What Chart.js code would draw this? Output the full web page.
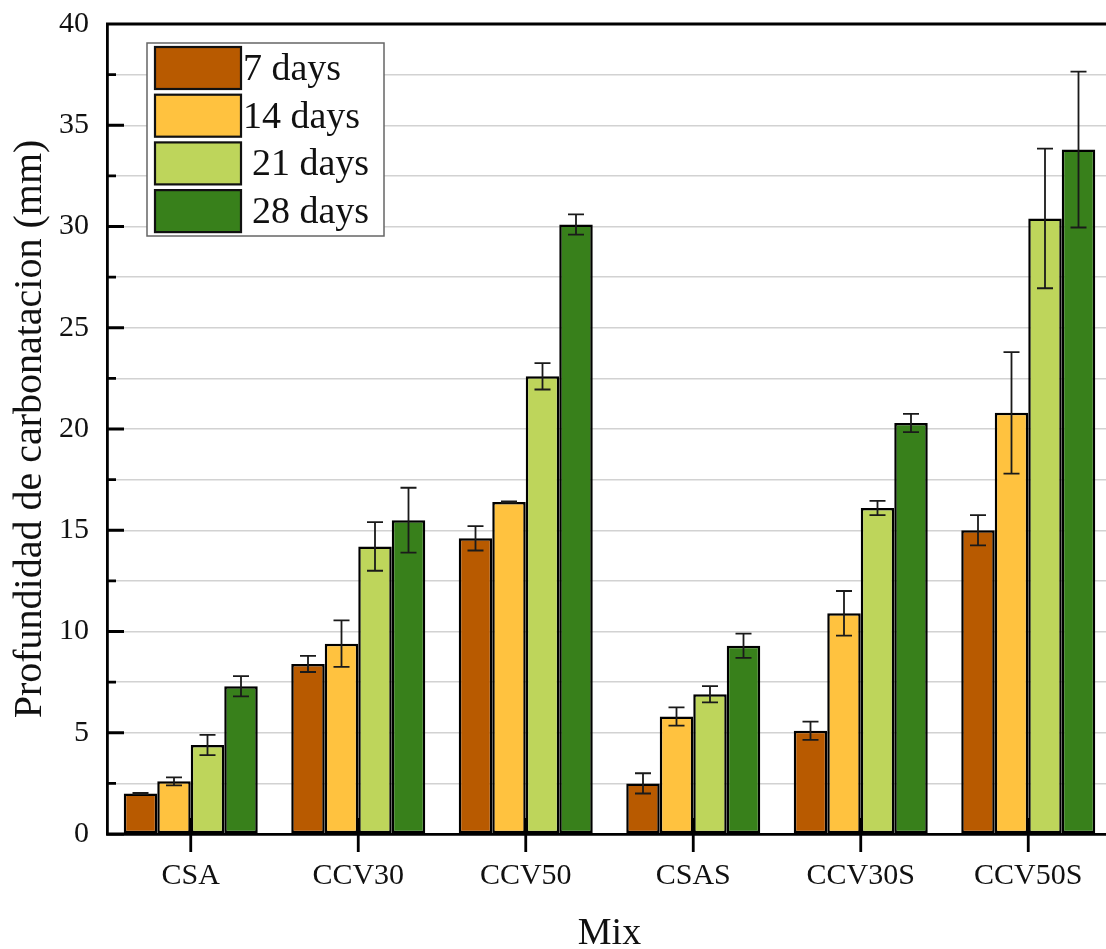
<!DOCTYPE html>
<html>
<head>
<meta charset="utf-8">
<script src="https://cdn.jsdelivr.net/npm/chart.js@4/dist/chart.umd.min.js"></script>
<style>
  html, body { margin: 0; padding: 0; background: #fff; overflow: hidden; }
  canvas { display: block; }
</style>
</head>
<body>
<canvas id="myChart" width="1115" height="949"></canvas>
<script>
// carbonation depth per mix, mean and standard deviation (mm)
var mixes = ['CSA', 'CCV30', 'CCV50', 'CSAS', 'CCV30S', 'CCV50S'];
var ages = ['7 days', '14 days', '21 days', '28 days'];
var days7 = [2.0, 8.4, 14.6, 2.5, 5.1, 15.0];
var days14 = [2.6, 9.4, 16.4, 5.8, 10.9, 20.8];
var days21 = [4.4, 14.2, 22.6, 6.9, 16.1, 30.4];
var days28 = [7.3, 15.5, 30.1, 9.3, 20.3, 33.8];
var err7 = [0.03, 0.4, 0.6, 0.5, 0.45, 0.75];
var err14 = [0.2, 1.15, 0.03, 0.45, 1.1, 3.0];
var err21 = [0.5, 1.2, 0.65, 0.4, 0.35, 3.45];
var err28 = [0.5, 1.6, 0.5, 0.6, 0.45, 3.85];
var yTicks = [0, 5, 10, 15, 20, 25, 30, 35, 40];

var colors = ['#b85a00', '#ffc23f', '#bed55b', '#38801b'];
var FONT = "'Liberation Serif', 'Times New Roman', serif";

var series = [days7, days14, days21, days28];
var errors = [err7, err14, err21, err28];

var datasets = series.map(function(s, i){
  return {
    label: ages[i],
    data: s,
    errors: errors[i],
    backgroundColor: colors[i],
    borderColor: '#000',
    borderWidth: 2.5,
    borderSkipped: false,
    categoryPercentage: 0.8,
    barPercentage: 1.0
  };
});

// frame, inward ticks, error bars and the boxed legend
var decorations = {
  id: 'decorations',
  afterDatasetsDraw: function(chart){
    var ctx = chart.ctx;
    var y = chart.scales.y;
    ctx.save();
    ctx.strokeStyle = '#1a1a1a';
    ctx.lineWidth = 1.8;
    chart.data.datasets.forEach(function(ds, i){
      var meta = chart.getDatasetMeta(i);
      meta.data.forEach(function(bar, j){
        var v = ds.data[j], e = ds.errors[j];
        var top = y.getPixelForValue(v + e), bot = y.getPixelForValue(v - e);
        ctx.beginPath();
        ctx.moveTo(bar.x, top); ctx.lineTo(bar.x, bot);
        ctx.moveTo(bar.x - 8, top); ctx.lineTo(bar.x + 8, top);
        ctx.moveTo(bar.x - 8, bot); ctx.lineTo(bar.x + 8, bot);
        ctx.stroke();
      });
    });
    ctx.restore();
  },
  afterDraw: function(chart){
    var ctx = chart.ctx;
    var a = chart.chartArea;
    var y = chart.scales.y, x = chart.scales.x;
    ctx.save();
    ctx.strokeStyle = '#000';
    ctx.lineWidth = 2.8;
    ctx.beginPath();
    ctx.moveTo(a.left - 1, a.top); ctx.lineTo(a.right, a.top);
    // y ticks every 2.5, long ones at labelled values
    for (var v = 0; v <= 40; v += 2.5) {
      var py = y.getPixelForValue(v);
      var len = (v % 5 === 0) ? 17 : 9;
      ctx.moveTo(a.left, py); ctx.lineTo(a.left + len, py);
    }
    mixes.forEach(function(m, i){
      var px = x.getPixelForValue(i);
      ctx.moveTo(px, a.bottom - 16); ctx.lineTo(px, a.bottom + 18);
    });
    ctx.stroke();

    // legend box
    var lx = a.left + 40, ly = a.top + 19, lw = 237, lh = 193;
    ctx.fillStyle = '#fff';
    ctx.fillRect(lx, ly, lw, lh);
    ctx.strokeStyle = '#666';
    ctx.lineWidth = 1.5;
    ctx.strokeRect(lx, ly, lw, lh);
    ctx.font = '38px ' + FONT;
    ctx.textBaseline = 'middle';
    ctx.textAlign = 'left';
    chart.data.datasets.forEach(function(ds, i){
      var by = ly + 4 + i * 47.7;
      ctx.fillStyle = ds.backgroundColor;
      ctx.fillRect(lx + 8, by, 86, 42);
      ctx.strokeStyle = '#111';
      ctx.lineWidth = 2.2;
      ctx.strokeRect(lx + 8, by, 86, 42);
      ctx.fillStyle = '#111';
      ctx.fillText(ds.label, lx + (i < 2 ? 96 : 105), by + 23);
    });
    ctx.restore();
  }
};

var ctx = document.getElementById('myChart');
var myChart = new Chart(ctx, {
  type: 'bar',
  data: { labels: mixes, datasets: datasets },
  options: {
    responsive: false,
    animation: false,
    layout: { padding: { top: 24, right: 3, left: 0, bottom: 0 } },
    plugins: { legend: { display: false }, tooltip: { enabled: false } },
    scales: {
      x: {
        afterFit: function(s){
          s.height = 115;
          s.paddingLeft = 0; s.paddingRight = 0;
        },
        grid: { display: false, drawTicks: false },
        border: { display: true, color: '#000', width: 2.8 },
        ticks: { padding: 24, color: '#111', font: { family: FONT, size: 30 } },
        title: {
          display: true, text: 'Mix', color: '#111',
          font: { family: FONT, size: 38 }, padding: { top: 0, bottom: -8 }
        }
      },
      y: {
        min: 0, max: 40,
        afterFit: function(s){
          s.width = 107;
          s.paddingTop = 0; s.paddingBottom = 0;
        },
        afterBuildTicks: function(s){
          var t = [];
          for (var v = 0; v <= 40; v += 2.5) t.push({ value: v });
          s.ticks = t;
        },
        grid: {
          drawTicks: false,
          lineWidth: 1.5,
          color: function(c){
            var v = c.tick.value;
            return (v === 0 || v === 40) ? 'rgba(0,0,0,0)' : '#d2d2d2';
          }
        },
        border: { display: true, color: '#000', width: 2.8 },
        ticks: {
          padding: 18, color: '#111', font: { family: FONT, size: 30 },
          callback: function(v){ return yTicks.indexOf(v) >= 0 ? String(v) : ''; }
        },
        title: {
          display: true, text: 'Profundidad de carbonatacion (mm)', color: '#111',
          font: { family: FONT, size: 40 }, padding: { top: 6, bottom: 0 }
        }
      }
    }
  },
  plugins: [decorations]
});
</script>
</body>
</html>
